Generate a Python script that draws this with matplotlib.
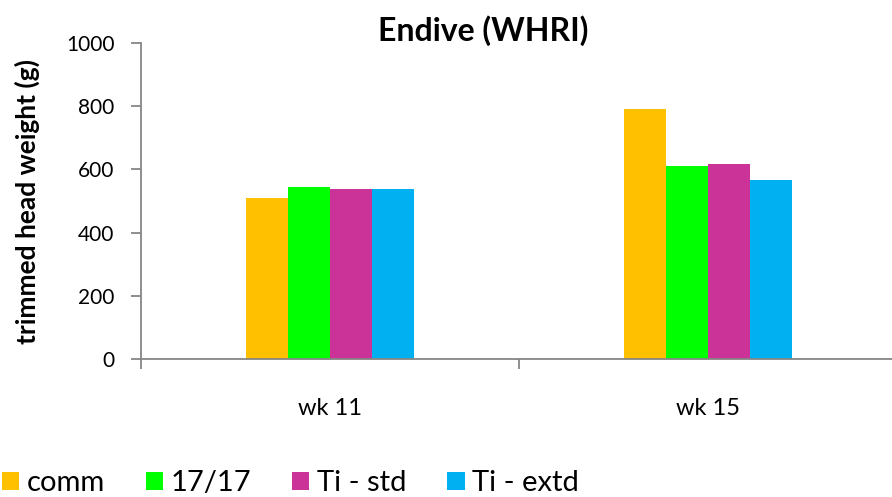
import numpy as np
import matplotlib.pyplot as plt
from matplotlib.patches import Patch

plt.rcParams['font.family'] = ['Lato', 'DejaVu Sans']

weeks = ["wk 11", "wk 15"]
series = ["comm", "17/17", "Ti - std", "Ti - extd"]
comm = [510, 791]
s1717 = [543, 611]
ti_std = [537, 616]
ti_extd = [538, 565]
values = [comm, s1717, ti_std, ti_extd]
colors = ["#FFC000", "#00FF00", "#CC3399", "#00B0F0"]

fig = plt.figure(figsize=(8.92, 4.97), dpi=100)
ax = fig.add_axes([141/892, 138/497, 756/892, 316/497])

x = np.arange(len(weeks)) + 0.5
w = 0.1105
for i, (vals, c) in enumerate(zip(values, colors)):
    ax.bar(x + (i - 1.5)*w, vals, w, color=c, edgecolor="none")

ax.set_xlim(0, 2)
ax.set_ylim(0, 1000)
ax.set_yticks([0, 200, 400, 600, 800, 1000])
ax.set_xticks([0, 1, 2])
ax.set_xticklabels([])
ax.set_xticks(x, minor=True)
ax.set_xticklabels(weeks, minor=True)
ax.tick_params(axis="x", which="minor", length=0, pad=28, labelsize=17)
ax.tick_params(axis="x", which="major", length=7, color="#868686", width=1.3)
ax.tick_params(axis="y", length=7, color="#868686", width=1.3, labelsize=15, pad=12)
for s in ["top", "right"]:
    ax.spines[s].set_visible(False)
for s in ["left", "bottom"]:
    ax.spines[s].set_color("#868686")
    ax.spines[s].set_linewidth(1.3)

ax.set_ylabel("trimmed head weight (g)", fontsize=19, fontweight="bold")
ax.yaxis.set_label_coords((40 - 141)/756, 0.5)
fig.text(483/892, 1 - 31/497, "Endive (WHRI)", fontsize=23, fontweight="bold",
         ha="center", va="center")

handles = [Patch(facecolor=c, edgecolor="none") for c in colors]
fig.legend(handles, series, loc="center left", bbox_to_anchor=(0.002, 0.028),
           ncol=4, frameon=False, fontsize=21, handlelength=0.6, handleheight=0.6,
           handletextpad=0.25, columnspacing=1.4, borderpad=0, borderaxespad=0)

fig.savefig("out.png", dpi=100)
